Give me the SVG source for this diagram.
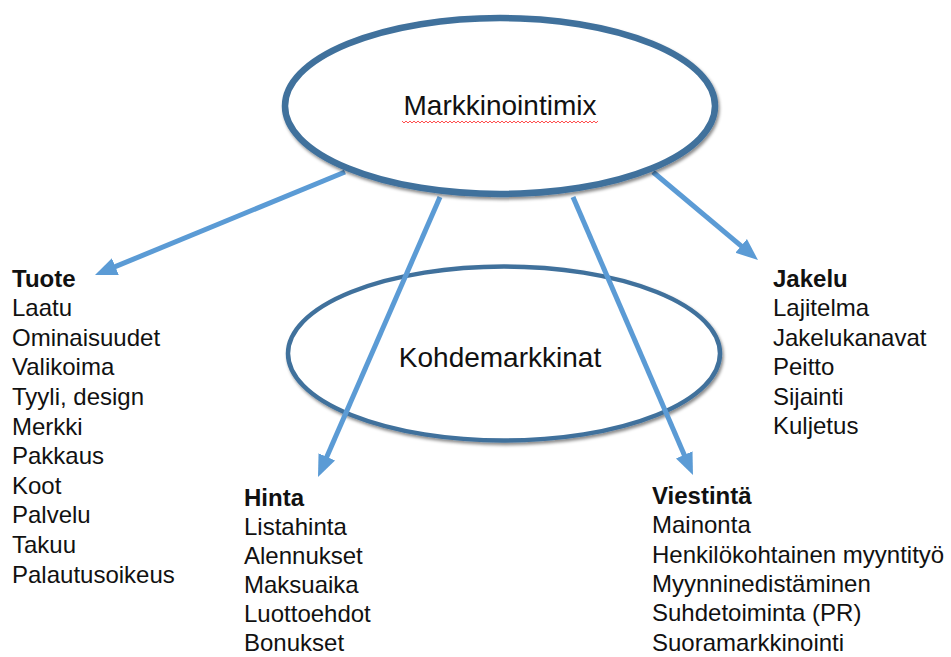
<svg xmlns="http://www.w3.org/2000/svg" width="951" height="657" viewBox="0 0 951 657">
<style>
.ell{fill:#ffffff;stroke:#41719c;filter:url(#sh)}
.title{font-family:"Liberation Sans",Arial,sans-serif;font-size:28px;fill:#111;text-anchor:middle}
.list{font-family:"Liberation Sans",Arial,sans-serif;font-size:24px;fill:#111}
.hd{font-weight:bold}
.conn{stroke:#5b9bd5;stroke-width:5;fill:none;marker-end:url(#ah)}
</style>
<defs>
<filter id="sh" x="-10%" y="-10%" width="120%" height="130%">
<feDropShadow dx="1.5" dy="2.5" stdDeviation="1.8" flood-color="#000" flood-opacity="0.45"/>
</filter>
<marker id="ah" markerUnits="userSpaceOnUse" markerWidth="24" markerHeight="20" viewBox="0 0 24 20" refX="10" refY="10" orient="auto">
<path d="M0,1 L22,10 L0,19 z" fill="#5b9bd5"/>
</marker>
<pattern id="wave" patternUnits="userSpaceOnUse" x="402" y="120" width="4" height="4">
<path d="M0,1 L2,3 L4,1" fill="none" stroke="#ff3b3b" stroke-width="0.9"/>
</pattern>
</defs>

<g id="kohdemarkkinat">
<ellipse class="ell" cx="504" cy="353.5" rx="216" ry="87" stroke-width="4.5"/>
<text class="title" x="500" y="367" font-size="28.5">Kohdemarkkinat</text>
</g>

<g id="connectors">
<line class="conn" x1="345" y1="172" x2="106.1" y2="270.4"/>
<line class="conn" x1="440" y1="197" x2="322.8" y2="466"/>
<line class="conn" x1="573" y1="197" x2="688.2" y2="464"/>
<line class="conn" x1="653" y1="172" x2="748.8" y2="252.3"/>
</g>

<g id="markkinointimix">
<ellipse class="ell" cx="500" cy="106" rx="215" ry="88" stroke-width="6.5"/>
<text class="title" x="500" y="115">Markkinointimix</text>
<rect x="402" y="120" width="196" height="4" fill="url(#wave)"/>
</g>

<g id="tuote" class="list">
<text x="12" y="286.5" class="hd">Tuote</text>
<text x="12" y="316">Laatu</text>
<text x="12" y="345.5">Ominaisuudet</text>
<text x="12" y="375">Valikoima</text>
<text x="12" y="405">Tyyli, design</text>
<text x="12" y="434.5">Merkki</text>
<text x="12" y="464">Pakkaus</text>
<text x="12" y="493.5">Koot</text>
<text x="12" y="523">Palvelu</text>
<text x="12" y="553">Takuu</text>
<text x="12" y="582.5">Palautusoikeus</text>
</g>

<g id="jakelu" class="list">
<text x="773" y="286.5" class="hd">Jakelu</text>
<text x="773" y="316">Lajitelma</text>
<text x="773" y="345.5">Jakelukanavat</text>
<text x="773" y="375">Peitto</text>
<text x="773" y="405">Sijainti</text>
<text x="773" y="434">Kuljetus</text>
</g>

<g id="hinta" class="list">
<text x="244" y="506" class="hd">Hinta</text>
<text x="244" y="535">Listahinta</text>
<text x="244" y="564">Alennukset</text>
<text x="244" y="593">Maksuaika</text>
<text x="244" y="622">Luottoehdot</text>
<text x="244" y="651">Bonukset</text>
</g>

<g id="viestinta" class="list">
<text x="652" y="504" class="hd">Viestintä</text>
<text x="652" y="533">Mainonta</text>
<text x="652" y="562.5">Henkilökohtainen myyntityö</text>
<text x="652" y="592">Myynninedistäminen</text>
<text x="652" y="621">Suhdetoiminta (PR)</text>
<text x="652" y="650.5">Suoramarkkinointi</text>
</g>
</svg>
